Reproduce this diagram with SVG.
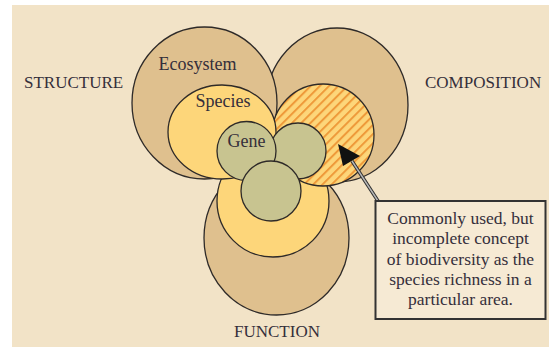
<svg xmlns="http://www.w3.org/2000/svg" width="549" height="347" viewBox="0 0 549 347">
  <style>
    .eco { fill: #DFC08E; stroke: #2e2a28; stroke-width: 1.3; }
    .sp { fill: #FDD67A; stroke: #2e2a28; stroke-width: 1.3; }
    .gene { fill: #C8C490; stroke: #2e2a28; stroke-width: 1.3; }
    .lbl { font-family: "Liberation Serif", "Times New Roman", serif; fill: #352f3b; }
    .cap { font-size: 17px; }
    .low { font-size: 18px; }
    .box { font-size: 17.5px; text-anchor: middle; }
  </style>
  <defs>
    <pattern id="hatch" patternUnits="userSpaceOnUse" width="6.5" height="6.5" patternTransform="rotate(45)">
      <rect width="6.5" height="6.5" fill="#FDD67A"/>
      <line x1="1" y1="0" x2="1" y2="6.5" stroke="#EE9A3A" stroke-width="2"/>
    </pattern>
  </defs>
  <rect x="12" y="5" width="537" height="342" fill="#F2E3C7"/>

  <g id="function-ecosystem"><ellipse class="eco" cx="276.5" cy="238" rx="72.5" ry="77"/></g>
  <g id="function-species"><ellipse class="sp" cx="273" cy="201" rx="56" ry="56"/></g>
  <g id="composition-ecosystem"><ellipse class="eco" cx="337" cy="105" rx="71" ry="77"/></g>
  <g id="structure-ecosystem"><ellipse class="eco" cx="204.5" cy="103" rx="72.5" ry="76"/></g>
  <g id="composition-species"><circle cx="323" cy="135" r="51" fill="url(#hatch)" stroke="#2e2a28" stroke-width="1.3"/></g>
  <g id="structure-species"><ellipse class="sp" cx="222" cy="132" rx="54" ry="47"/></g>
  <g id="composition-gene"><circle class="gene" cx="298" cy="151" r="28"/></g>
  <g id="structure-gene"><circle class="gene" cx="246.5" cy="151" r="29.5"/></g>
  <g id="function-gene"><circle class="gene" cx="271" cy="191" r="30"/></g>

  <g id="labels">
    <text class="lbl cap" x="24" y="88">STRUCTURE</text>
    <text class="lbl cap" x="425" y="88">COMPOSITION</text>
    <text class="lbl cap" x="277" y="337" text-anchor="middle">FUNCTION</text>
    <text class="lbl low" x="197.5" y="70" text-anchor="middle">Ecosystem</text>
    <text class="lbl low" x="223" y="107" text-anchor="middle">Species</text>
    <text class="lbl low" x="246.5" y="147" text-anchor="middle">Gene</text>
  </g>

  <g id="connectors">
    <line x1="378" y1="201" x2="352" y2="161" stroke="#2e2e2e" stroke-width="3.4"/>
    <line x1="378" y1="201" x2="352" y2="161" stroke="#b8b8b8" stroke-width="1.4"/>
    <polygon points="338,144 343,166 360,156" fill="#111"/>
  </g>

  <g id="note">
    <rect x="375.5" y="201" width="170" height="118" fill="#F6EAD4" stroke="#333" stroke-width="2"/>
    <text class="lbl box" x="460.5" y="224">Commonly used, but</text>
    <text class="lbl box" x="460.5" y="244">incomplete concept</text>
    <text class="lbl box" x="460.5" y="265">of biodiversity as the</text>
    <text class="lbl box" x="460.5" y="285">species richness in a</text>
    <text class="lbl box" x="460.5" y="305">particular area.</text>
  </g>
</svg>
